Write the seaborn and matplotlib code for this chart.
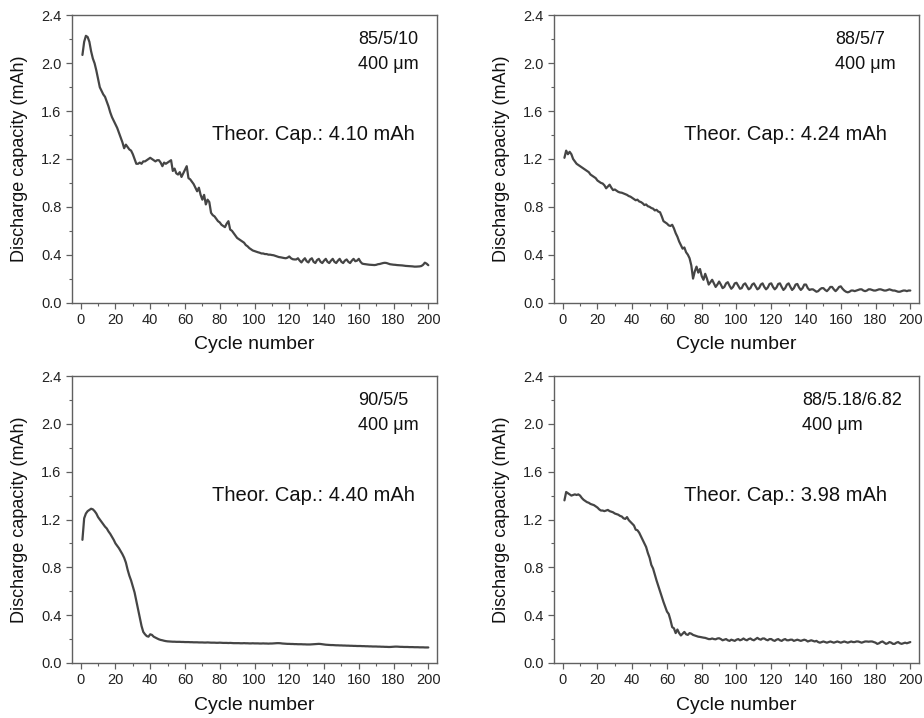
import numpy as np
import pandas as pd
import matplotlib
matplotlib.use("Agg")
import matplotlib.pyplot as plt
from matplotlib.ticker import MultipleLocator
import seaborn as sns

# Cycle index shared by all four cells
cycles = list(range(1, 201))

# Discharge capacity (mAh), composition 85/5/10
cap_85_5_10 = [
    2.07, 2.18, 2.23, 2.22, 2.18, 2.10, 2.04, 2.00, 1.94, 1.87,
    1.80, 1.77, 1.74, 1.72, 1.68, 1.64, 1.59, 1.55, 1.52, 1.49,
    1.46, 1.42, 1.38, 1.34, 1.29, 1.32, 1.30, 1.28, 1.27, 1.24,
    1.20, 1.16, 1.16, 1.17, 1.16, 1.18, 1.18, 1.19, 1.20, 1.21,
    1.20, 1.19, 1.18, 1.19, 1.19, 1.17, 1.14, 1.17, 1.16, 1.17,
    1.18, 1.19, 1.10, 1.12, 1.08, 1.07, 1.09, 1.05, 1.08, 1.11,
    1.14, 1.04, 1.03, 1.01, 0.99, 0.96, 0.93, 0.96, 0.90, 0.86,
    0.90, 0.82, 0.86, 0.84, 0.75, 0.73, 0.72, 0.70, 0.68, 0.67,
    0.65, 0.64, 0.63, 0.66, 0.68, 0.61, 0.60, 0.58, 0.56, 0.54,
    0.53, 0.52, 0.51, 0.50, 0.48, 0.47, 0.455, 0.445, 0.435, 0.43,
    0.425, 0.42, 0.416, 0.41, 0.41, 0.405, 0.405, 0.40, 0.40, 0.397,
    0.395, 0.39, 0.385, 0.38, 0.378, 0.375, 0.372, 0.37, 0.375, 0.385,
    0.37, 0.362, 0.36, 0.36, 0.37, 0.35, 0.335, 0.355, 0.37, 0.345,
    0.335, 0.36, 0.37, 0.34, 0.33, 0.355, 0.365, 0.34, 0.33, 0.35,
    0.365, 0.34, 0.33, 0.35, 0.365, 0.34, 0.33, 0.35, 0.365, 0.34,
    0.33, 0.35, 0.36, 0.34, 0.33, 0.35, 0.365, 0.345, 0.35, 0.365,
    0.34, 0.325, 0.322, 0.32, 0.318, 0.316, 0.315, 0.314, 0.313, 0.315,
    0.32, 0.322, 0.326, 0.33, 0.332, 0.33, 0.325, 0.32, 0.318, 0.316,
    0.315, 0.313, 0.312, 0.311, 0.31, 0.308, 0.306, 0.305, 0.304, 0.303,
    0.302, 0.30, 0.30, 0.301, 0.302, 0.305, 0.315, 0.333, 0.325, 0.312,
]

# Discharge capacity (mAh), composition 88/5/7
cap_88_5_7 = [
    1.21, 1.27, 1.24, 1.26, 1.24, 1.20, 1.18, 1.16, 1.15, 1.14,
    1.13, 1.12, 1.11, 1.10, 1.09, 1.07, 1.06, 1.05, 1.04, 1.02,
    1.01, 1.00, 0.995, 0.98, 0.955, 0.97, 0.985, 0.96, 0.94, 0.945,
    0.935, 0.925, 0.92, 0.918, 0.912, 0.905, 0.90, 0.89, 0.885, 0.875,
    0.865, 0.855, 0.86, 0.845, 0.84, 0.83, 0.815, 0.82, 0.805, 0.80,
    0.79, 0.785, 0.77, 0.775, 0.76, 0.755, 0.72, 0.68, 0.67, 0.66,
    0.645, 0.64, 0.65, 0.62, 0.58, 0.55, 0.51, 0.48, 0.45, 0.46,
    0.42, 0.40, 0.37, 0.31, 0.20, 0.26, 0.30, 0.25, 0.28, 0.22,
    0.19, 0.24, 0.20, 0.15, 0.17, 0.19, 0.16, 0.13, 0.15, 0.175,
    0.15, 0.12, 0.13, 0.16, 0.17, 0.14, 0.115, 0.13, 0.16, 0.165,
    0.14, 0.115, 0.12, 0.15, 0.16, 0.135, 0.11, 0.12, 0.15, 0.16,
    0.135, 0.11, 0.12, 0.15, 0.16, 0.13, 0.11, 0.125, 0.155, 0.16,
    0.13, 0.11, 0.125, 0.155, 0.16, 0.13, 0.105, 0.12, 0.15, 0.16,
    0.13, 0.105, 0.12, 0.15, 0.155, 0.125, 0.105, 0.12, 0.15, 0.15,
    0.12, 0.105, 0.11, 0.11, 0.10, 0.09, 0.095, 0.11, 0.12, 0.12,
    0.105, 0.095, 0.11, 0.13, 0.13, 0.11, 0.095, 0.11, 0.13, 0.135,
    0.115, 0.10, 0.09, 0.085, 0.09, 0.10, 0.10, 0.095, 0.10, 0.105,
    0.11, 0.11, 0.10, 0.095, 0.10, 0.11, 0.11, 0.105, 0.10, 0.10,
    0.105, 0.11, 0.11, 0.105, 0.10, 0.10, 0.105, 0.11, 0.105, 0.10,
    0.10, 0.095, 0.09, 0.09, 0.095, 0.10, 0.10, 0.095, 0.10, 0.10,
]

# Discharge capacity (mAh), composition 90/5/5
cap_90_5_5 = [
    1.03, 1.21, 1.25, 1.27, 1.28, 1.29, 1.285, 1.27, 1.25, 1.22,
    1.20, 1.18, 1.16, 1.14, 1.125, 1.10, 1.08, 1.055, 1.03, 1.00,
    0.98, 0.96, 0.935, 0.91, 0.88, 0.84, 0.78, 0.73, 0.69, 0.64,
    0.59, 0.52, 0.45, 0.38, 0.31, 0.26, 0.24, 0.225, 0.22, 0.24,
    0.235, 0.22, 0.212, 0.205, 0.198, 0.193, 0.19, 0.186, 0.183, 0.181,
    0.18, 0.179, 0.178, 0.178, 0.177, 0.177, 0.177, 0.176, 0.176, 0.175,
    0.175, 0.175, 0.174, 0.174, 0.173, 0.173, 0.173, 0.172, 0.172, 0.172,
    0.171, 0.171, 0.172, 0.171, 0.170, 0.170, 0.170, 0.169, 0.169, 0.170,
    0.169, 0.168, 0.168, 0.168, 0.167, 0.168, 0.167, 0.166, 0.166, 0.166,
    0.166, 0.165, 0.165, 0.166, 0.165, 0.165, 0.164, 0.164, 0.165, 0.164,
    0.164, 0.164, 0.163, 0.163, 0.164, 0.163, 0.163, 0.162, 0.163, 0.163,
    0.164, 0.165, 0.166, 0.166, 0.165, 0.163, 0.162, 0.161, 0.160, 0.160,
    0.159, 0.159, 0.158, 0.158, 0.157, 0.157, 0.157, 0.156, 0.156, 0.155,
    0.155, 0.155, 0.156, 0.157, 0.158, 0.159, 0.160, 0.159, 0.157, 0.155,
    0.153, 0.152, 0.151, 0.150, 0.150, 0.149, 0.148, 0.148, 0.147, 0.147,
    0.146, 0.146, 0.145, 0.145, 0.144, 0.144, 0.143, 0.143, 0.142, 0.142,
    0.142, 0.141, 0.141, 0.140, 0.140, 0.139, 0.139, 0.138, 0.138, 0.138,
    0.137, 0.137, 0.136, 0.136, 0.135, 0.135, 0.134, 0.134, 0.135, 0.136,
    0.137, 0.137, 0.136, 0.135, 0.135, 0.134, 0.134, 0.134, 0.133, 0.133,
    0.133, 0.132, 0.132, 0.132, 0.131, 0.131, 0.131, 0.130, 0.130, 0.130,
]

# Discharge capacity (mAh), composition 88/5.18/6.82
cap_88_518_682 = [
    1.36, 1.43, 1.42, 1.41, 1.40, 1.405, 1.41, 1.405, 1.41, 1.40,
    1.38, 1.365, 1.355, 1.345, 1.34, 1.33, 1.325, 1.32, 1.31, 1.30,
    1.285, 1.275, 1.275, 1.27, 1.275, 1.28, 1.27, 1.265, 1.26, 1.25,
    1.245, 1.24, 1.23, 1.225, 1.21, 1.205, 1.22, 1.195, 1.18, 1.165,
    1.15, 1.115, 1.11, 1.09, 1.06, 1.03, 1.00, 0.97, 0.92, 0.88,
    0.82, 0.79, 0.74, 0.69, 0.645, 0.60, 0.555, 0.51, 0.47, 0.43,
    0.41, 0.36, 0.30, 0.29, 0.25, 0.28, 0.25, 0.23, 0.245, 0.26,
    0.24, 0.235, 0.25, 0.245, 0.235, 0.23, 0.225, 0.22, 0.218, 0.215,
    0.212, 0.21, 0.205, 0.20, 0.20, 0.205, 0.20, 0.198, 0.205, 0.207,
    0.20, 0.19, 0.195, 0.20, 0.19, 0.185, 0.195, 0.19, 0.185, 0.195,
    0.20, 0.19, 0.195, 0.205, 0.195, 0.19, 0.20, 0.205, 0.195, 0.19,
    0.20, 0.21, 0.20, 0.195, 0.205, 0.205, 0.195, 0.19, 0.20, 0.20,
    0.19, 0.185, 0.195, 0.20, 0.19, 0.185, 0.195, 0.20, 0.19, 0.19,
    0.195, 0.195, 0.185, 0.19, 0.195, 0.19, 0.185, 0.19, 0.195, 0.19,
    0.18, 0.185, 0.19, 0.185, 0.18, 0.185, 0.175, 0.17, 0.175, 0.18,
    0.175, 0.17, 0.175, 0.18, 0.175, 0.17, 0.175, 0.18, 0.175, 0.17,
    0.175, 0.18, 0.175, 0.17, 0.175, 0.18, 0.175, 0.175, 0.18, 0.18,
    0.175, 0.17, 0.175, 0.18, 0.18, 0.178, 0.18, 0.18, 0.175, 0.17,
    0.16, 0.165, 0.175, 0.18, 0.17, 0.16, 0.165, 0.175, 0.17, 0.16,
    0.16, 0.17, 0.175, 0.165, 0.16, 0.165, 0.17, 0.165, 0.17, 0.175,
]

compositions = ["85/5/10", "88/5/7", "90/5/5", "88/5.18/6.82"]
theor_caps = ["4.10", "4.24", "4.40", "3.98"]
series = [cap_85_5_10, cap_88_5_7, cap_90_5_5, cap_88_518_682]

y_ticks = [0.0, 0.4, 0.8, 1.2, 1.6, 2.0, 2.4]
x_ticks = [0, 20, 40, 60, 80, 100, 120, 140, 160, 180, 200]

sns.set_theme(style="ticks")
plt.rcParams["font.family"] = ["Liberation Sans", "DejaVu Sans"]

line_color = "#454545"
spine_color = "#606060"

fig = plt.figure(figsize=(9.24, 7.18), dpi=100)
fig.patch.set_facecolor("white")

W, H = 924.0, 718.0
ax_w, ax_h = 365.0, 287.0
lefts = [72.0, 554.0, 72.0, 554.0]
bottoms_px = [302.5, 302.5, 663.0, 663.0]
label_x = [0.784, 0.77, 0.784, 0.679]

for i in range(4):
    ax = fig.add_axes([lefts[i] / W, (H - bottoms_px[i]) / H, ax_w / W, ax_h / H])
    df = pd.DataFrame({"Cycle number": cycles, "Discharge capacity (mAh)": series[i]})
    sns.lineplot(data=df, x="Cycle number", y="Discharge capacity (mAh)", ax=ax,
                 color=line_color, linewidth=1.6)

    ax.set_xlim(-5, 205)
    ax.set_ylim(0, 2.4)
    ax.set_xticks(x_ticks)
    ax.set_yticks(y_ticks)
    ax.set_yticklabels([f"{v:.1f}" for v in y_ticks])
    ax.xaxis.set_minor_locator(MultipleLocator(10))
    ax.yaxis.set_minor_locator(MultipleLocator(0.2))
    ax.tick_params(which="major", direction="out", length=4.5, width=0.9,
                   color=spine_color, labelsize=10.5, labelcolor="#222222", pad=3,
                   top=False, right=False)
    ax.tick_params(which="minor", direction="out", length=2.5, width=0.8,
                   color=spine_color, top=False, right=False)
    for s in ax.spines.values():
        s.set_visible(True)
        s.set_color(spine_color)
        s.set_linewidth(1.0)

    ax.set_xlabel("Cycle number", fontsize=14, color="#111111")
    ax.set_ylabel("Discharge capacity (mAh)", fontsize=13, color="#111111")
    ax.xaxis.set_label_coords(0.5, -42.0 / ax_h)
    ax.xaxis.label.set_verticalalignment("center")
    ax.yaxis.set_label_coords(-52.0 / ax_w, 0.5)
    ax.yaxis.label.set_verticalalignment("center")

    ax.text(label_x[i], 0.915, compositions[i], transform=ax.transAxes,
            fontsize=13, ha="left", va="center", color="#111111")
    ax.text(label_x[i], 0.828, "400 \u03bcm", transform=ax.transAxes,
            fontsize=13, ha="left", va="center", color="#111111")
    ax.text(0.383 if i % 2 == 0 else 0.357, 0.584,
            f"Theor. Cap.: {theor_caps[i]} mAh", transform=ax.transAxes,
            fontsize=14.5, ha="left", va="center", color="#111111")

fig.savefig("out.png", dpi=100, facecolor="white")
